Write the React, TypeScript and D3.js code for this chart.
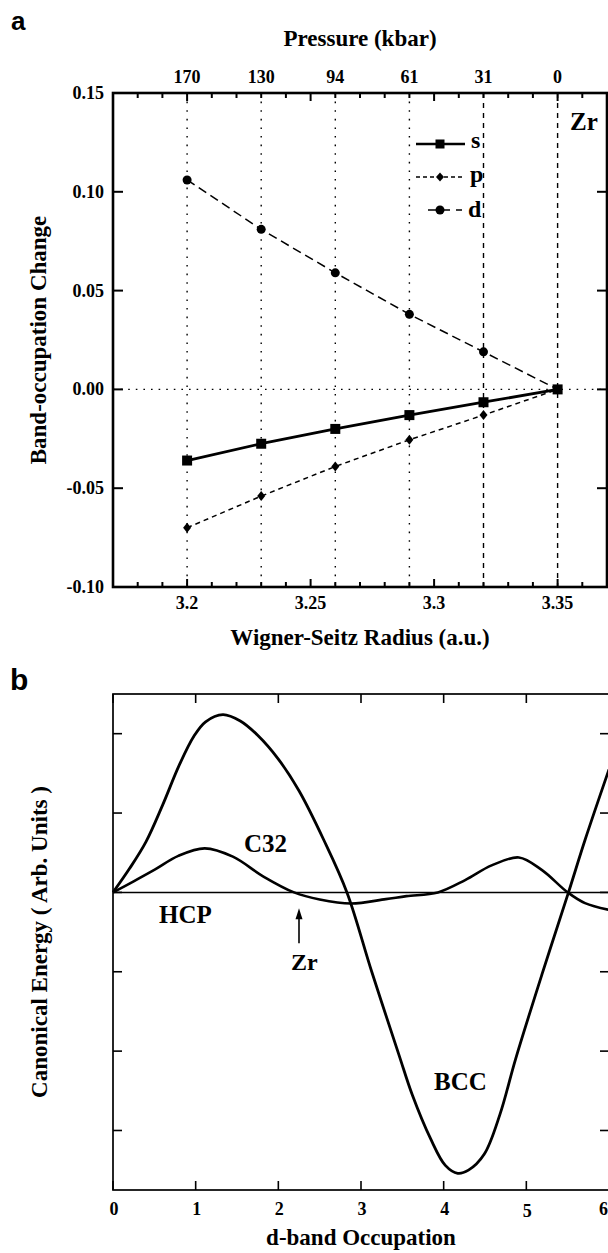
import React from "react";
import * as d3 from "d3";

// ---------- Panel a data ----------
const radius = [3.2, 3.23, 3.26, 3.29, 3.32, 3.35];
const pressureLabels = ["170", "130", "94", "61", "31", "0"];
const sBand = [-0.036, -0.0275, -0.02, -0.013, -0.0065, 0];
const pBand = [-0.07, -0.054, -0.039, -0.0255, -0.013, 0];
const dBand = [0.106, 0.081, 0.059, 0.038, 0.019, 0];
const yTicksA = [-0.1, -0.05, 0, 0.05, 0.1, 0.15];
const yTickLabelsA = ["-0.10", "-0.05", "0.00", "0.05", "0.10", "0.15"];
const xTicksA = [3.2, 3.25, 3.3, 3.35];
const xTickLabelsA = ["3.2", "3.25", "3.3", "3.35"];

// ---------- Panel b data ----------
const bccOcc = [0, 0.2, 0.4, 0.6, 0.8, 0.98, 1.12, 1.33, 1.54, 1.75, 2.0, 2.25, 2.55, 2.83, 3.13, 3.46, 3.62, 3.84, 4.02, 4.17, 4.3, 4.49, 4.68, 4.87, 5.19, 5.51, 5.71, 6.0];
const bccEnergy = [0, 0.3, 0.64, 1.1, 1.6, 1.97, 2.15, 2.24, 2.16, 1.98, 1.68, 1.28, 0.66, 0, -1.0, -2.05, -2.55, -3.1, -3.44, -3.54, -3.5, -3.3, -2.8, -2.1, -1.03, 0, 0.66, 1.55];
const c32Occ = [0, 0.25, 0.51, 0.79, 1.11, 1.45, 1.82, 2.19, 2.5, 2.88, 3.3, 3.55, 3.93, 4.26, 4.58, 4.91, 5.19, 5.5, 5.71, 6.0];
const c32Energy = [0, 0.14, 0.29, 0.46, 0.555, 0.45, 0.2, 0, -0.09, -0.14, -0.085, -0.047, 0, 0.155, 0.34, 0.44, 0.28, 0, -0.135, -0.22];
const xTicksB = [0, 1, 2, 3, 4, 5, 6];
const yTicksB = [-3, -2, -1, 0, 1, 2];

const serif = "'Liberation Serif', 'Times New Roman', serif";
const sans = "'Liberation Sans', Arial, sans-serif";

export default function App() {
  // panel a scales
  const xA = d3.scaleLinear().domain([3.17, 3.37]).range([113, 607]);
  const yA = d3.scaleLinear().domain([-0.1, 0.15]).range([587, 93]);
  const minorA = d3.range(318, 337).map((v) => v / 100);

  const lineA = (vals: number[]) =>
    d3.line<number>().x((_, i) => xA(radius[i])).y((v) => yA(v))(vals) || "";

  // panel b scales
  const xB = d3.scaleLinear().domain([0, 6]).range([113, 609]);
  const yB = d3.scaleLinear().domain([-3.75, 2.5]).range([1190, 694]);
  const curveB = (xs: number[], ys: number[]) =>
    d3
      .line<number>()
      .x((v) => xB(v))
      .y((_, i) => yB(ys[i]))
      .curve(d3.curveCatmullRom.alpha(0.5))(xs) || "";

  const diamond = (cx: number, cy: number, w = 4, h = 5) =>
    `M${cx},${cy - h}L${cx + w},${cy}L${cx},${cy + h}L${cx - w},${cy}Z`;

  const aTop = yA.range()[1];
  const aBot = yA.range()[0];
  const aLeft = xA.range()[0];
  const aRight = xA.range()[1];

  const bTop = yB.range()[1];
  const bBot = yB.range()[0];
  const bLeft = xB.range()[0];
  const bRight = xB.range()[1];

  return (
    <svg
      width={608}
      height={1253}
      style={{ position: "absolute", left: 0, top: 0, display: "block", background: "#fff" }}
    >
      {/* ===================== Panel a ===================== */}
      <text x={11} y={30} fontFamily={sans} fontWeight="bold" fontSize={26}>
        a
      </text>
      <text x={(aLeft + aRight) / 2} y={46} textAnchor="middle" fontFamily={serif} fontWeight="bold" fontSize={23}>
        Pressure (kbar)
      </text>
      {radius.map((r, i) => (
        <text key={"pl" + i} x={xA(r)} y={83} textAnchor="middle" fontFamily={serif} fontWeight="bold" fontSize={18}>
          {pressureLabels[i]}
        </text>
      ))}

      {/* vertical grid lines */}
      {radius.map((r, i) => (
        <line
          key={"g" + i}
          x1={xA(r)}
          x2={xA(r)}
          y1={aTop}
          y2={aBot}
          stroke="#000"
          strokeWidth={1.4}
          strokeDasharray={i < 4 ? "1.6,7" : "5,5"}
        />
      ))}
      {/* zero line */}
      <line x1={aLeft} x2={aRight} y1={yA(0)} y2={yA(0)} stroke="#000" strokeWidth={1.4} strokeDasharray="1.6,6" />

      {/* minor x ticks top & bottom */}
      {minorA.map((t, i) => {
        const major = Math.abs(Math.round(t * 100) % 5) === 0;
        const len = major ? 8 : 5;
        return (
          <g key={"mt" + i}>
            <line x1={xA(t)} x2={xA(t)} y1={aTop} y2={aTop + len} stroke="#000" strokeWidth={2} />
            <line x1={xA(t)} x2={xA(t)} y1={aBot} y2={aBot - len} stroke="#000" strokeWidth={2} />
          </g>
        );
      })}
      {/* y ticks left & right */}
      {yTicksA.map((t, i) => (
        <g key={"yt" + i}>
          <line x1={aLeft} x2={aLeft + 10} y1={yA(t)} y2={yA(t)} stroke="#000" strokeWidth={2} />
          <line x1={aRight} x2={aRight - 10} y1={yA(t)} y2={yA(t)} stroke="#000" strokeWidth={2} />
          <text x={104} y={yA(t) + 6} textAnchor="end" fontFamily={serif} fontWeight="bold" fontSize={18}>
            {yTickLabelsA[i]}
          </text>
        </g>
      ))}
      {xTicksA.map((t, i) => (
        <text key={"xl" + i} x={xA(t)} y={609} textAnchor="middle" fontFamily={serif} fontWeight="bold" fontSize={18}>
          {xTickLabelsA[i]}
        </text>
      ))}

      {/* frame */}
      <rect x={aLeft} y={aTop} width={aRight - aLeft} height={aBot - aTop} fill="none" stroke="#000" strokeWidth={2.6} />

      {/* series lines */}
      <path d={lineA(dBand)} fill="none" stroke="#000" strokeWidth={1.5} strokeDasharray="9,5" />
      <path d={lineA(pBand)} fill="none" stroke="#000" strokeWidth={1.5} strokeDasharray="5,4" />
      <path d={lineA(sBand)} fill="none" stroke="#000" strokeWidth={2.8} />
      {radius.map((r, i) => (
        <g key={"m" + i}>
          <circle cx={xA(r)} cy={yA(dBand[i])} r={4.5} fill="#000" />
          <path d={diamond(xA(r), yA(pBand[i]))} fill="#000" />
          <rect x={xA(r) - 5} y={yA(sBand[i]) - 5} width={10} height={10} fill="#000" />
        </g>
      ))}

      {/* Zr label */}
      <text x={570} y={130} fontFamily={serif} fontWeight="bold" fontSize={25}>
        Zr
      </text>

      {/* legend */}
      <g>
        <line x1={416} x2={465} y1={144} y2={144} stroke="#000" strokeWidth={2.4} />
        <rect x={435.5} y={139.5} width={9} height={9} fill="#000" />
        <text x={471} y={148} fontFamily={serif} fontWeight="bold" fontSize={24}>
          s
        </text>
        <line x1={416} x2={465} y1={177} y2={177} stroke="#000" strokeWidth={1.4} strokeDasharray="4,3" />
        <path d={diamond(440, 177, 4, 4.5)} fill="#000" />
        <text x={470} y={182} fontFamily={serif} fontWeight="bold" fontSize={24}>
          p
        </text>
        <line x1={428} x2={462} y1={210} y2={210} stroke="#000" strokeWidth={1.6} strokeDasharray="8,6" />
        <circle cx={440} cy={210} r={4.5} fill="#000" />
        <text x={468} y={217} fontFamily={serif} fontWeight="bold" fontSize={24}>
          d
        </text>
      </g>

      <text x={(aLeft + aRight) / 2} y={645} textAnchor="middle" fontFamily={serif} fontWeight="bold" fontSize={23}>
        Wigner-Seitz Radius (a.u.)
      </text>
      <text
        transform={`translate(46,${(aTop + aBot) / 2}) rotate(-90)`}
        textAnchor="middle"
        fontFamily={serif}
        fontWeight="bold"
        fontSize={23}
      >
        Band-occupation Change
      </text>

      {/* ===================== Panel b ===================== */}
      <text x={10} y={690} fontFamily={sans} fontWeight="bold" fontSize={30}>
        b
      </text>

      {/* frame */}
      <rect x={bLeft} y={bTop} width={bRight - bLeft} height={bBot - bTop} fill="none" stroke="#000" strokeWidth={1.7} />

      {/* ticks */}
      {xTicksB.map((t, i) => (
        <g key={"bxt" + i}>
          <line x1={xB(t)} x2={xB(t)} y1={bTop} y2={bTop + 9} stroke="#000" strokeWidth={1.6} />
          <line x1={xB(t)} x2={xB(t)} y1={bBot} y2={bBot - 9} stroke="#000" strokeWidth={1.6} />
          <text
            x={t === 6 ? 608 : xB(t) + 1}
            y={t === 5 ? 1217 : 1215}
            textAnchor={t === 6 ? "end" : "middle"}
            fontFamily={serif}
            fontWeight="bold"
            fontSize={18}
          >
            {String(t)}
          </text>
        </g>
      ))}
      {yTicksB.map((t, i) => (
        <g key={"byt" + i}>
          <line x1={bLeft} x2={bLeft + 9} y1={yB(t)} y2={yB(t)} stroke="#000" strokeWidth={1.6} />
          <line x1={bRight} x2={bRight - 9} y1={yB(t)} y2={yB(t)} stroke="#000" strokeWidth={1.6} />
        </g>
      ))}

      {/* HCP reference line */}
      <line x1={xB(0)} x2={xB(6)} y1={yB(0)} y2={yB(0)} stroke="#000" strokeWidth={1.5} />
      {/* C32 and BCC curves */}
      <path d={curveB(c32Occ, c32Energy)} fill="none" stroke="#000" strokeWidth={2.6} />
      <path d={curveB(bccOcc, bccEnergy)} fill="none" stroke="#000" strokeWidth={2.8} />

      {/* labels */}
      <text x={244} y={852} fontFamily={serif} fontWeight="bold" fontSize={25}>
        C32
      </text>
      <text x={159} y={923} fontFamily={serif} fontWeight="bold" fontSize={25}>
        HCP
      </text>
      <text x={434} y={1090} fontFamily={serif} fontWeight="bold" fontSize={25}>
        BCC
      </text>
      {/* Zr arrow */}
      <line x1={xB(2.25)} x2={xB(2.25)} y1={yB(-0.64)} y2={yB(-0.28)} stroke="#000" strokeWidth={1.6} />
      <path
        d={`M${xB(2.25)},${yB(-0.2)}L${xB(2.25) - 3.5},${yB(-0.2) + 11}L${xB(2.25) + 3.5},${yB(-0.2) + 11}Z`}
        fill="#000"
      />
      <text x={291} y={970} fontFamily={serif} fontWeight="bold" fontSize={24}>
        Zr
      </text>

      <text x={(bLeft + bRight) / 2} y={1245} textAnchor="middle" fontFamily={serif} fontWeight="bold" fontSize={23}>
        d-band Occupation
      </text>
      <text
        transform={`translate(47,${(bTop + bBot) / 2}) rotate(-90)`}
        textAnchor="middle"
        fontFamily={serif}
        fontWeight="bold"
        fontSize={23}
      >
        Canonical Energy ( Arb. Units )
      </text>
    </svg>
  );
}
